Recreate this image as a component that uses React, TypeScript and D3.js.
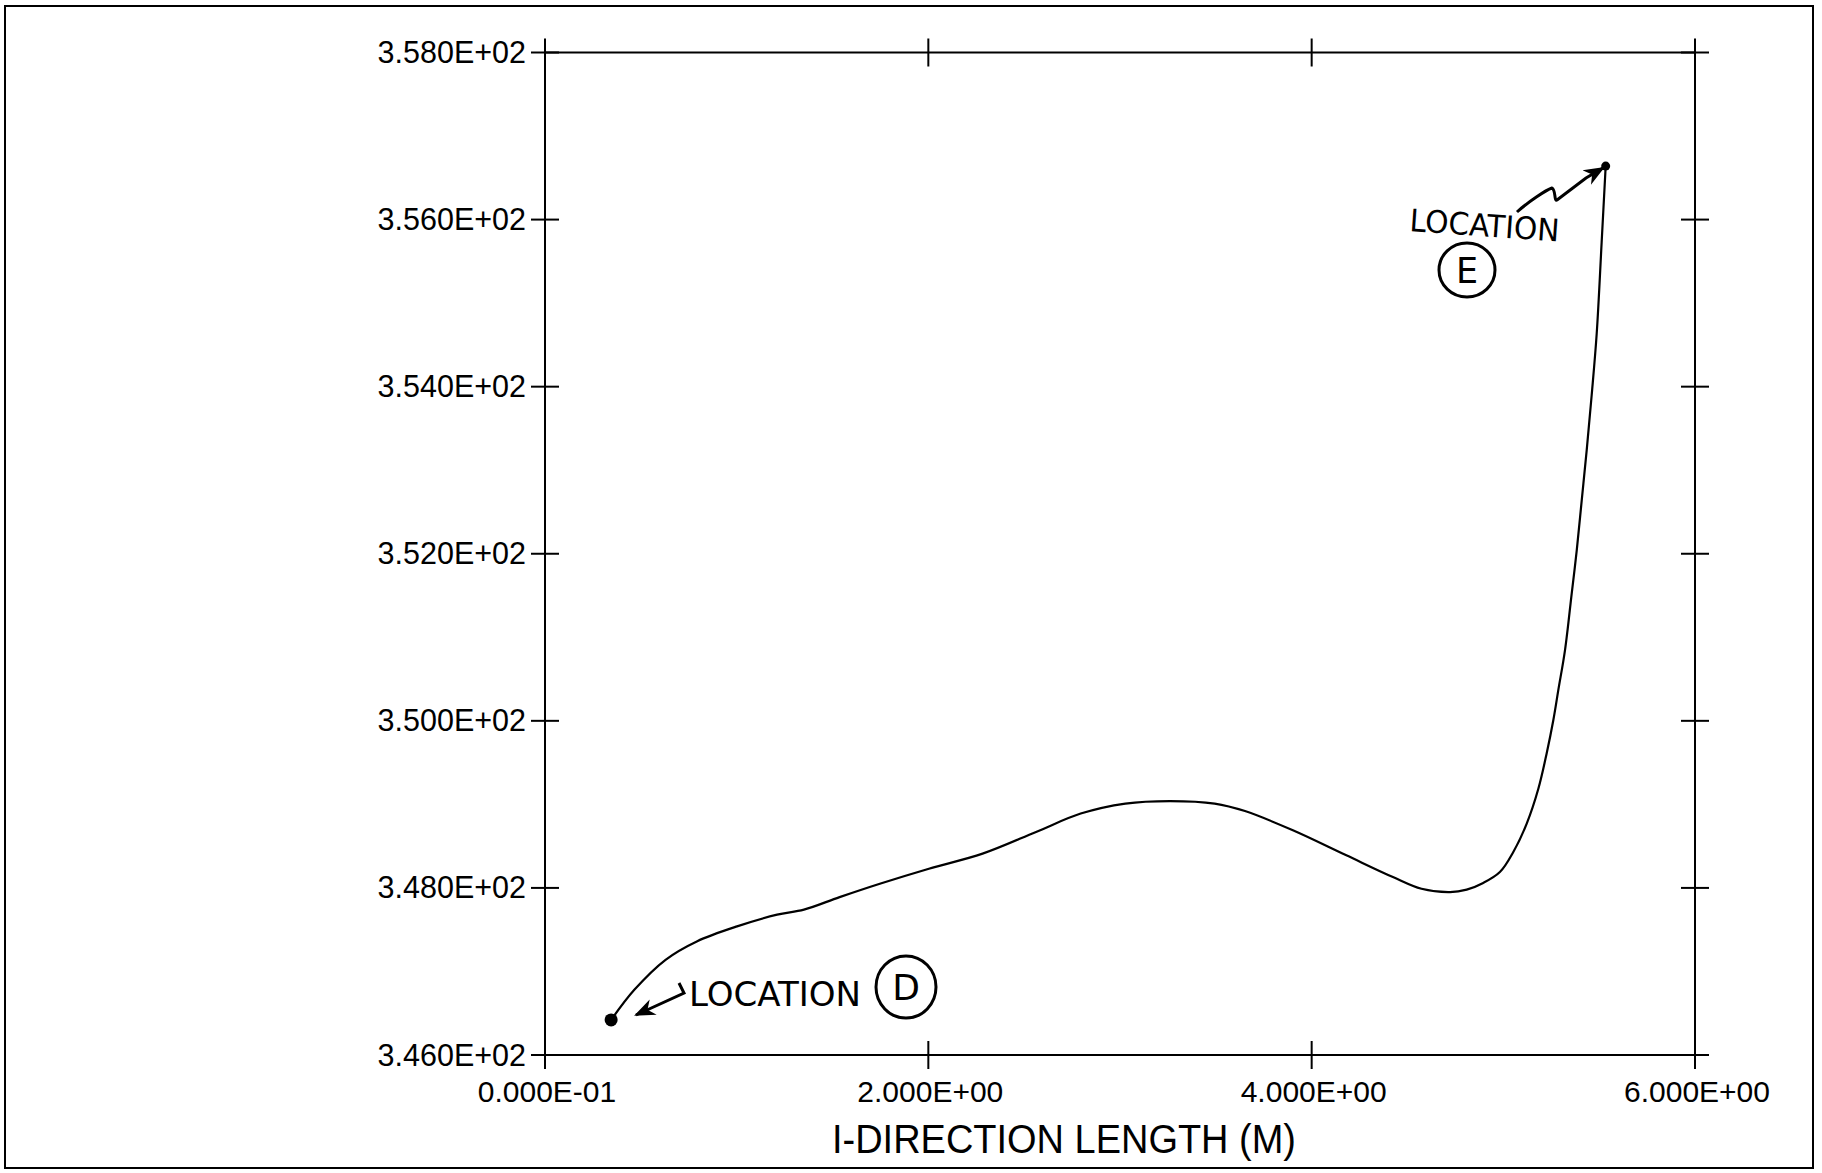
import React from "react";
import * as d3 from "d3";

// I-direction length (m) along the path
const lengthM = [
  0.345, 0.466, 0.629, 0.792, 1.002, 1.211, 1.351, 1.537, 1.747, 2.003, 2.283,
  2.562, 2.795, 3.028, 3.261, 3.494, 3.652, 3.902, 4.181, 4.424, 4.573, 4.722,
  4.809, 4.895, 4.982, 5.052, 5.122, 5.183, 5.226, 5.261, 5.287, 5.322, 5.357,
  5.383, 5.409, 5.435, 5.461, 5.487, 5.513, 5.534,
];
const values = [
  346.42, 346.78, 347.14, 347.36, 347.54, 347.68, 347.74, 347.89, 348.05,
  348.23, 348.41, 348.67, 348.89, 349.01, 349.04, 349.01, 348.92, 348.69,
  348.39, 348.13, 347.99, 347.95, 347.98, 348.06, 348.19, 348.43, 348.77,
  349.19, 349.61, 350.01, 350.37, 350.85, 351.53, 352.04, 352.64, 353.24,
  353.9, 354.63, 355.73, 356.64,
];

const xTicks = [0, 2, 4, 6];
const xTickLabels = ["0.000E-01", "2.000E+00", "4.000E+00", "6.000E+00"];
const yTicks = [346, 348, 350, 352, 354, 356, 358];
const yTickLabels = [
  "3.460E+02",
  "3.480E+02",
  "3.500E+02",
  "3.520E+02",
  "3.540E+02",
  "3.560E+02",
  "3.580E+02",
];
const xTitle = "I-DIRECTION LENGTH (M)";
const noteText = "LOCATION";

const W = 1822;
const H = 1173;
const plot = { left: 545, right: 1695, top: 52.5, bottom: 1055 };
const tick = 14;
const font = "'Liberation Sans', Arial, Helvetica, sans-serif";
const hand = "'DejaVu Sans', sans-serif";

export default function App() {
  const x = d3.scaleLinear().domain([0, 6]).range([plot.left, plot.right]);
  const y = d3.scaleLinear().domain([346, 358]).range([plot.bottom, plot.top]);

  const pts = lengthM.map((d, i) => [d, values[i]] as [number, number]);
  const line = d3
    .line<[number, number]>()
    .x((d) => x(d[0]))
    .y((d) => y(d[1]))
    .curve(d3.curveCatmullRom.alpha(0.5));

  const first = pts[0];
  const last = pts[pts.length - 1];

  return (
    <svg
      width={W}
      height={H}
      style={{ position: "absolute", left: 0, top: 0, background: "#fff" }}
    >
      <defs>
        <marker
          id="arr"
          viewBox="0 0 10 10"
          refX="9"
          refY="5"
          markerWidth="7"
          markerHeight="7"
          orient="auto"
        >
          <path d="M0,1 L10,5 L0,9 L3,5 Z" fill="#000" />
        </marker>
      </defs>

      {/* page frame */}
      <rect x={5} y={6} width={1808} height={1162} fill="none" stroke="#000" strokeWidth={2} />

      {/* plot box */}
      <rect
        x={plot.left}
        y={plot.top}
        width={plot.right - plot.left}
        height={plot.bottom - plot.top}
        fill="none"
        stroke="#000"
        strokeWidth={2}
      />

      {/* crossing ticks on all four sides */}
      {xTicks.map((t) => (
        <g key={"xt" + t} stroke="#000" strokeWidth={2}>
          <line x1={x(t)} x2={x(t)} y1={plot.bottom - tick} y2={plot.bottom + tick} />
          <line x1={x(t)} x2={x(t)} y1={plot.top - tick} y2={plot.top + tick} />
        </g>
      ))}
      {yTicks.map((t) => (
        <g key={"yt" + t} stroke="#000" strokeWidth={2}>
          <line x1={plot.left - tick} x2={plot.left + tick} y1={y(t)} y2={y(t)} />
          <line x1={plot.right - tick} x2={plot.right + tick} y1={y(t)} y2={y(t)} />
        </g>
      ))}

      {/* tick labels */}
      {yTicks.map((t, i) => (
        <text
          key={"yl" + t}
          x={plot.left - 19}
          y={y(t) + 10.5}
          textAnchor="end"
          fontFamily={font}
          fontSize={30.5}
          fill="#000"
        >
          {yTickLabels[i]}
        </text>
      ))}
      {xTicks.map((t, i) => (
        <text
          key={"xl" + t}
          x={x(t) + 2}
          y={1102}
          textAnchor="middle"
          fontFamily={font}
          fontSize={30}
          fill="#000"
        >
          {xTickLabels[i]}
        </text>
      ))}

      <text
        x={1064}
        y={1153}
        textAnchor="middle"
        fontFamily={font}
        fontSize={41}
        textLength={464}
        lengthAdjust="spacingAndGlyphs"
        fill="#000"
      >
        {xTitle}
      </text>

      {/* data curve */}
      <path d={line(pts) ?? ""} fill="none" stroke="#000" strokeWidth={2.2} />
      <circle cx={x(first[0])} cy={y(first[1])} r={6.5} fill="#000" />
      <circle cx={x(last[0])} cy={y(last[1])} r={4.5} fill="#000" />

      {/* hand annotation: location D */}
      <path
        d="M679,983 L684,993 L636,1015"
        fill="none"
        stroke="#000"
        strokeWidth={3}
        markerEnd="url(#arr)"
      />
      <text
        x={689}
        y={1006}
        fontFamily={hand}
        fontSize={33}
        textLength={172}
        lengthAdjust="spacingAndGlyphs"
        fill="#000"
      >
        {noteText}
      </text>
      <ellipse cx={906} cy={987} rx={30} ry={31} fill="none" stroke="#000" strokeWidth={3} />
      <text x={906} y={1000} textAnchor="middle" fontFamily={hand} fontSize={36} fill="#000">
        D
      </text>

      {/* hand annotation: location E */}
      <path
        d="M1517,212 C1528,202 1546,190 1552,188 C1556,190 1554,202 1557,200 L1586,178 L1603,168"
        fill="none"
        stroke="#000"
        strokeWidth={3}
        markerEnd="url(#arr)"
      />
      <text
        x={1409}
        y={231}
        fontFamily={hand}
        fontSize={31}
        textLength={150}
        lengthAdjust="spacingAndGlyphs"
        transform="rotate(4 1409 231)"
        fill="#000"
      >
        {noteText}
      </text>
      <ellipse cx={1467} cy={270} rx={28} ry={27} fill="none" stroke="#000" strokeWidth={3} />
      <text x={1467} y={283} textAnchor="middle" fontFamily={hand} fontSize={35} fill="#000">
        E
      </text>
    </svg>
  );
}
